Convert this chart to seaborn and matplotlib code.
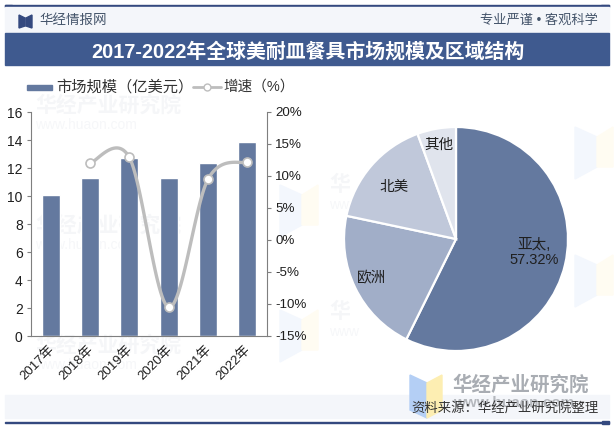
from __future__ import annotations

import matplotlib
matplotlib.use("Agg")

import matplotlib.pyplot as plt
import numpy as np
import pandas as pd
import seaborn as sns
from matplotlib.patches import Polygon, Rectangle
from matplotlib.transforms import ScaledTranslation

YEARS = ["2017年", "2018年", "2019年", "2020年", "2021年", "2022年"]
MARKET_SIZE = [10.1, 11.3, 12.7, 11.3, 12.35, 13.85]
GROWTH_YEARS = ["2018年", "2019年", "2020年", "2021年", "2022年"]
GROWTH = [12.0, 12.9, -10.5, 9.5, 12.2]

LEFT_TICKS = [0, 2, 4, 6, 8, 10, 12, 14, 16]
RIGHT_TICKS = [-15, -10, -5, 0, 5, 10, 15, 20]

REGIONS = ["亚太", "欧洲", "北美", "其他"]
REGION_SHARE = [57.32, 21.0, 16.1, 5.58]

W, H = 614, 430
NAVY = "#3f5a8f"
BAR_BLUE = "#64799f"
PIE_COLORS = ["#64799f", "#a1aec8", "#c0c8da", "#e0e4ed"]
LINE_GREY = "#bdbdbd"
AXIS_GREY = "#7f7f7f"
TEXT = "#1f1f1f"


def px_axes(fig, left, top, right, bottom):
    return fig.add_axes([left / W, 1 - bottom / H, (right - left) / W, (bottom - top) / H])


def smooth_curve(x, y, n=30):
    # catmull-rom through the points, same look as a smoothed office line
    x = np.asarray(x, dtype=float)
    y = np.asarray(y, dtype=float)
    px = np.r_[x[0], x, x[-1]]
    py = np.r_[y[0], y, y[-1]]
    xs, ys = [], []
    for i in range(1, len(px) - 2):
        t = np.linspace(0, 1, n)
        for p, out in ((px, xs), (py, ys)):
            a, b, c, d = p[i - 1], p[i], p[i + 1], p[i + 2]
            out.append(0.5 * (2 * b + (c - a) * t + (2 * a - 5 * b + 4 * c - d) * t**2
                              + (3 * b - a - 3 * c + d) * t**3))
    return np.concatenate(xs), np.concatenate(ys)


def draw_frame(fig):
    bg = fig.add_axes([0, 0, 1, 1], zorder=0)
    bg.set_xlim(0, W)
    bg.set_ylim(H, 0)
    bg.axis("off")

    # header
    bg.add_patch(Rectangle((5, 5.2), 604, 1.1, color="#34497f"))
    bg.add_patch(Rectangle((5, 4.6), 7, 2, color="#34497f"))
    bg.add_patch(Rectangle((601, 4.6), 8, 2, color="#34497f"))
    bg.add_patch(Rectangle((5, 6.5), 604, 26.5, color="#f4f6fa"))
    bg.add_patch(Rectangle((5, 33), 604, 32, color=NAVY))
    bg.add_patch(Polygon([(19, 15), (25, 18), (25, 26), (19, 28)], color="#34497f"))
    bg.add_patch(Polygon([(32, 15), (26, 18), (26, 26), (32, 28)], color="#34497f"))
    bg.text(39, 21, "华经情报网", fontsize=9.7, color="#44546a", va="center")
    bg.text(598, 20, "专业严谨 • 客观科学", fontsize=9.5, color="#44546a", va="center", ha="right")
    bg.text(307.5, 52, "2017-2022年全球美耐皿餐具市场规模及区域结构", fontsize=14.3,
            color="white", weight="bold", ha="center", va="center")

    # faint watermarks
    for x, y, label, url in [(35, 225, "华经产业研究院", "www.huaon.com"),
                             (35, 345, "华经产业研究院", "www.huaon.com"),
                             (35, 105, "华经产业研究院", "www.huaon.com"),
                             (329, 185, "华", "www"),
                             (329, 312, "华", "www")]:
        bg.text(x, y, label, fontsize=15, color="#f5f6f8", weight="bold", va="center")
        bg.text(x, y + 20, url, fontsize=10, color="#f6f7f9", va="center")
    for x, y in [(575, 137), (575, 265), (280, 195), (280, 320)]:
        bg.add_patch(Polygon([(x, y - 10), (x + 22, y), (x + 22, y + 30), (x, y + 42)], color="#f3f7fd"))
        bg.add_patch(Polygon([(x + 22, y), (x + 38, y - 10), (x + 38, y + 30), (x + 22, y + 30)], color="#fffcf2"))

    # footer
    bg.add_patch(Rectangle((5, 395), 604, 23, color="#f4f6fa"))
    bg.add_patch(Polygon([(410, 375), (427, 383), (427, 418), (410, 410)], color="#b4cff5"))
    bg.add_patch(Polygon([(427, 383), (442, 375), (442, 410), (427, 418)], color="#fdeeb2"))
    bg.text(452, 385, "华经产业研究院", fontsize=14, color="#a9adb3", weight="bold", va="center")
    bg.text(453, 403, "www.huaon.com", fontsize=11, color="#b5b8bd", weight="bold", va="center")
    bg.text(599, 409, "资料来源：华经产业研究院整理", fontsize=9.6, color="#333333", ha="right", va="center")
    bg.add_patch(Rectangle((5, 422), 604, 1, color="#34497f"))
    bg.add_patch(Rectangle((602, 421), 7, 2.5, color="#34497f"))


def draw_combo(fig):
    bar_df = pd.DataFrame({"year": YEARS, "size": MARKET_SIZE})
    ax = px_axes(fig, 31, 112, 267, 336)
    ax.patch.set_alpha(0)
    sns.barplot(data=bar_df, x="year", y="size", color=BAR_BLUE, saturation=1, width=0.46, ax=ax)
    ax.set_xlim(-0.5, 5.5)
    ax.set_ylim(0, 16)
    ax.set_yticks(LEFT_TICKS)
    ax.set_xlabel("")
    ax.set_ylabel("")
    ax.grid(False)
    ax.set_xticks(np.arange(-0.5, 6), minor=True)
    ax.tick_params(axis="x", which="major", length=0, pad=5, labelsize=9.5, labelcolor=TEXT)
    ax.tick_params(axis="x", which="minor", length=3, color=AXIS_GREY, width=0.8, direction="in")
    ax.tick_params(axis="y", length=3, color=AXIS_GREY, width=0.8, labelsize=10, labelcolor=TEXT, pad=3)
    shift = ScaledTranslation(-3 / 100, 0, fig.dpi_scale_trans)
    for label in ax.get_xticklabels():
        label.set(rotation=45, ha="right", rotation_mode="anchor")
        label.set_transform(label.get_transform() + shift)
    for side in ("top", "right"):
        ax.spines[side].set_visible(False)
    for side in ("left", "bottom"):
        ax.spines[side].set_color(AXIS_GREY)
        ax.spines[side].set_linewidth(0.8)

    ax2 = ax.twinx()
    ax2.patch.set_alpha(0)
    positions = [YEARS.index(y) for y in GROWTH_YEARS]
    sx, sy = smooth_curve(positions, GROWTH)
    sns.lineplot(x=sx, y=sy, color=LINE_GREY, linewidth=2.4, sort=False, estimator=None, ax=ax2)
    sns.scatterplot(x=positions, y=GROWTH, s=42, color="white", edgecolor=LINE_GREY,
                    linewidth=1.2, zorder=5, clip_on=False, ax=ax2)
    ax2.set_xlim(-0.5, 5.5)
    ax2.set_ylim(-15, 20)
    ax2.set_yticks(RIGHT_TICKS)
    ax2.set_yticklabels([f"{v}%" for v in RIGHT_TICKS])
    ax2.set_ylabel("")
    ax2.grid(False)
    ax2.tick_params(axis="y", length=3, color=AXIS_GREY, width=0.8, labelsize=9.6, labelcolor=TEXT, pad=3)
    for side in ("top", "left", "bottom"):
        ax2.spines[side].set_visible(False)
    ax2.spines["right"].set_color(AXIS_GREY)
    ax2.spines["right"].set_linewidth(0.8)


def draw_legend(fig):
    lg = fig.add_axes([0, 0, 1, 1], zorder=6)
    lg.set_xlim(0, W)
    lg.set_ylim(H, 0)
    lg.axis("off")
    lg.add_patch(Rectangle((27, 84.5), 25, 5, color=BAR_BLUE))
    lg.text(56, 87, "市场规模（亿美元）", fontsize=11, color="#333333", va="center")
    lg.plot([193, 221], [87, 87], color=LINE_GREY, lw=2)
    lg.plot([207], [87], "o", ms=5, mfc="white", mec=LINE_GREY, mew=1)
    lg.text(223, 87, "增速（%）", fontsize=10.5, color="#333333", va="center")


def draw_pie(fig):
    ax = px_axes(fig, 344, 127, 568, 351)
    ax.patch.set_alpha(0)
    ax.pie(REGION_SHARE, colors=PIE_COLORS, startangle=90, counterclock=False, radius=1,
           wedgeprops={"edgecolor": "white", "linewidth": 1.6})
    ax.set_xlim(-1, 1)
    ax.set_ylim(-1, 1)
    ax.set_aspect("equal")
    lab = {"fontsize": 10.5, "color": TEXT, "ha": "center", "va": "center"}
    ax.text(0.70, -0.12, f"{REGIONS[0]},\n{REGION_SHARE[0]:.2f}%", linespacing=1.05, **lab)
    ax.text(-0.75, -0.35, REGIONS[1], **lab)
    ax.text(-0.55, 0.46, REGIONS[2], **lab)
    ax.text(-0.15, 0.84, REGIONS[3], **lab)


def main() -> None:
    sns.set_theme(style="white")
    plt.rcParams["font.family"] = ["Liberation Sans", "Noto Sans CJK SC", "DejaVu Sans"]
    plt.rcParams["axes.unicode_minus"] = False

    fig = plt.figure(figsize=(W / 100, H / 100), dpi=100, facecolor="white")
    draw_frame(fig)
    draw_combo(fig)
    draw_pie(fig)
    draw_legend(fig)
    fig.savefig("out.png", dpi=100)
    plt.close(fig)


if __name__ == "__main__":
    main()
